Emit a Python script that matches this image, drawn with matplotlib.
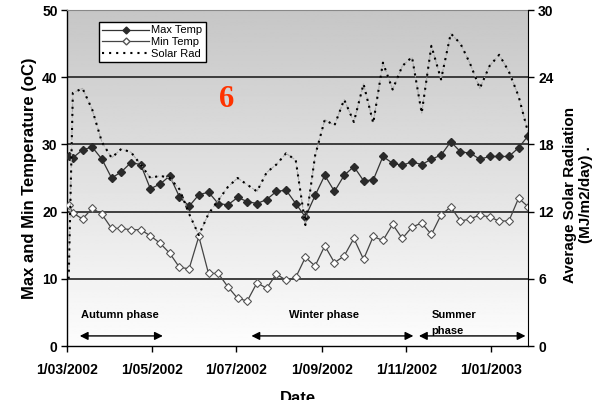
import matplotlib
matplotlib.use('Agg')
import matplotlib.pyplot as plt
import matplotlib.dates as mdates
import numpy as np
import pandas as pd
from matplotlib.lines import Line2D

# ---------------- data ----------------
dates = ['2002-03-02', '2002-03-05', '2002-03-12', '2002-03-19', '2002-03-26',
         '2002-04-02', '2002-04-09', '2002-04-16', '2002-04-23', '2002-04-30',
         '2002-05-07', '2002-05-14', '2002-05-21', '2002-05-28', '2002-06-04',
         '2002-06-11', '2002-06-18', '2002-06-25', '2002-07-02', '2002-07-09',
         '2002-07-16', '2002-07-23', '2002-07-30', '2002-08-06', '2002-08-13',
         '2002-08-20', '2002-08-27', '2002-09-03', '2002-09-10', '2002-09-17',
         '2002-09-24', '2002-10-01', '2002-10-08', '2002-10-15', '2002-10-22',
         '2002-10-29', '2002-11-05', '2002-11-12', '2002-11-19', '2002-11-26',
         '2002-12-03', '2002-12-10', '2002-12-17', '2002-12-24', '2002-12-31',
         '2003-01-07', '2003-01-14', '2003-01-21', '2003-01-28']

max_temp = [28.3, 28.0, 29.2, 29.6, 27.8, 25.0, 25.9, 27.3, 27.0, 23.4,
            24.1, 25.3, 22.2, 20.8, 22.5, 22.9, 21.2, 21.0, 22.1, 21.5,
            21.2, 21.8, 23.0, 23.2, 21.2, 19.2, 22.4, 25.4, 23.0, 25.4,
            26.7, 24.6, 24.7, 28.2, 27.2, 26.9, 27.4, 27.0, 27.8, 28.4,
            30.4, 28.9, 28.7, 27.8, 28.2, 28.2, 28.2, 29.5, 31.3]

min_temp = [21.0, 19.8, 18.9, 20.5, 19.6, 17.5, 17.5, 17.3, 17.3, 16.4,
            15.3, 13.8, 11.7, 11.5, 16.3, 10.8, 10.8, 8.8, 7.1, 6.7,
            9.4, 8.6, 10.7, 9.8, 10.2, 13.2, 11.9, 14.9, 12.4, 13.4,
            16.0, 12.9, 16.3, 15.7, 18.1, 16.0, 17.7, 18.3, 16.6, 19.5,
            20.7, 18.6, 18.9, 19.5, 19.2, 18.6, 18.6, 22.0, 20.7]

solar_rad = [6.0, 22.6, 23.0, 21.1, 18.2, 16.8, 17.6, 17.3, 16.2, 15.0,
             15.2, 15.0, 14.0, 11.8, 9.9, 11.8, 13.0, 14.2, 15.0, 14.4,
             13.8, 15.5, 16.2, 17.2, 16.6, 10.8, 17.0, 20.2, 19.7, 22.0,
             20.0, 23.4, 19.9, 25.3, 22.9, 25.0, 25.8, 20.8, 26.8, 23.8,
             27.9, 27.0, 25.2, 23.0, 25.0, 26.0, 24.5, 22.3, 19.0]

x_tick_dates = ['2002-03-01', '2002-05-01', '2002-07-01', '2002-09-01',
                '2002-11-01', '2003-01-01']
x_tick_labels = ['1/03/2002', '1/05/2002', '1/07/2002', '1/09/2002',
                 '1/11/2002', '1/01/2003']
temp_ticks = [0, 10, 20, 30, 40, 50]
solar_ticks = [0, 6, 12, 18, 24, 30]

# ---------------- figure ----------------
plt.rcParams['font.family'] = ['Liberation Sans', 'DejaVu Sans']
plt.rcParams['font.weight'] = 'bold'

d = pd.to_datetime(dates)
xt = pd.to_datetime(x_tick_dates)

fig = plt.figure(figsize=(6.01, 4.0), dpi=100)
ax = fig.add_axes([0.112, 0.135, 0.767, 0.84])

# gradient plot-area background: dark gray at top, white at bottom
grad = np.linspace(198, 253, 256).reshape(-1, 1)
ax.imshow(grad, extent=[0, 1, 0, 1], transform=ax.transAxes, aspect='auto',
          cmap='gray', vmin=0, vmax=255, zorder=0, origin='upper')

for v in temp_ticks[1:-1]:
    ax.axhline(v, color='#222222', lw=1.2, zorder=1)

ax.plot(d, max_temp, color='#333333', lw=0.9, marker='D', ms=4,
        mfc='#2a2a2a', mec='#2a2a2a', zorder=4)
ax.plot(d, min_temp, color='#444444', lw=0.9, marker='D', ms=4,
        mfc='white', mec='#555555', mew=0.8, zorder=4)

ax.set_xlim(pd.Timestamp('2002-03-01'), pd.Timestamp('2003-01-28'))
ax.set_ylim(0, 50)
ax.set_xticks(xt)
ax.set_xticklabels(x_tick_labels)
ax.set_yticks(temp_ticks)
ax.tick_params(axis='both', direction='out', length=4, width=1,
               labelsize=10, pad=3, colors='black')
ax.tick_params(axis='x', pad=8)
for lab in ax.get_xticklabels() + ax.get_yticklabels():
    lab.set_fontweight('bold')

ax.spines['top'].set_color('#888888')
ax.spines['right'].set_visible(False)
for s in ['left', 'bottom']:
    ax.spines[s].set_color('black')
    ax.spines[s].set_linewidth(1)

ax.set_ylabel('Max and Min Temperature (oC)', fontsize=12, fontweight='bold',
              labelpad=4)

ax2 = ax.twinx()
ax2.plot(d, solar_rad, color='#aaaaaa', lw=0.8, ls=(0, (3, 2)), zorder=3)
ax2.plot(d, solar_rad, color='black', lw=1.5, ls=(0, (1, 2.4)), zorder=3)
ax2.set_ylim(0, 30)
ax2.set_yticks(solar_ticks)
ax2.tick_params(axis='y', direction='out', length=4, width=1, labelsize=10,
                pad=3)
for lab in ax2.get_yticklabels():
    lab.set_fontweight('bold')
ax2.spines['right'].set_color('black')
ax2.spines['top'].set_visible(False)
ax2.spines['left'].set_visible(False)
ax2.spines['bottom'].set_visible(False)
ax2.set_ylabel('Average Solar Radiation\n(MJ/m2/day) .', fontsize=11,
               fontweight='bold', rotation=90, labelpad=6)
ax2.yaxis.set_label_coords(1.075, 0.45)

# legend
handles = [Line2D([], [], color='#333333', lw=0.9, marker='D', ms=3.5,
                  mfc='#2a2a2a', mec='#2a2a2a'),
           Line2D([], [], color='#444444', lw=0.9, marker='D', ms=3.5,
                  mfc='white', mec='#555555'),
           Line2D([], [], color='black', lw=1.5, ls=(0, (1, 2.4)))]
leg = ax2.legend(handles, ['Max Temp', 'Min Temp', 'Solar Rad'],
                 loc='upper left', bbox_to_anchor=(0.069, 0.964),
                 borderaxespad=0, fontsize=8, frameon=True, fancybox=False,
                 handlelength=4.2, handletextpad=0.2, labelspacing=0.15,
                 borderpad=0.3)
leg.get_frame().set_edgecolor('black')
leg.get_frame().set_linewidth(1)
leg.get_frame().set_facecolor('white')
leg.get_frame().set_alpha(1)
for t in leg.get_texts():
    t.set_fontweight('normal')

# red label
ax2.text(0.346, 0.734, '6', transform=ax2.transAxes, color='#ff3300',
         fontsize=22, fontweight='bold', family='Liberation Serif',
         ha='center', va='center')

# phase arrows and labels
arrow_kw = dict(arrowstyle='<|-|>', color='black', lw=1, mutation_scale=12,
                shrinkA=0, shrinkB=0)
def phase_arrow(x0, x1):
    ax.annotate('', xy=(pd.Timestamp(x1), 1.5), xytext=(pd.Timestamp(x0), 1.5),
                arrowprops=arrow_kw, zorder=5)

phase_arrow('2002-03-10', '2002-05-09')
phase_arrow('2002-07-12', '2002-11-06')
phase_arrow('2002-11-10', '2003-01-26')

ax.text(pd.Timestamp('2002-03-11'), 4.6, 'Autumn phase', fontsize=8,
        fontweight='bold', ha='left', va='center', zorder=5)
ax.text(pd.Timestamp('2002-08-08'), 4.6, 'Winter phase', fontsize=8,
        fontweight='bold', ha='left', va='center', zorder=5)
ax.text(pd.Timestamp('2002-11-19'), 4.6, 'Summer', fontsize=8,
        fontweight='bold', ha='left', va='center', zorder=5)
ax.text(pd.Timestamp('2002-11-19'), 2.2, 'phase', fontsize=8,
        fontweight='bold', ha='left', va='center', zorder=5)

fig.text(0.495, 0.022, 'Date', fontsize=12, fontweight='bold',
         ha='center', va='top')

fig.savefig('out.png', dpi=100)
